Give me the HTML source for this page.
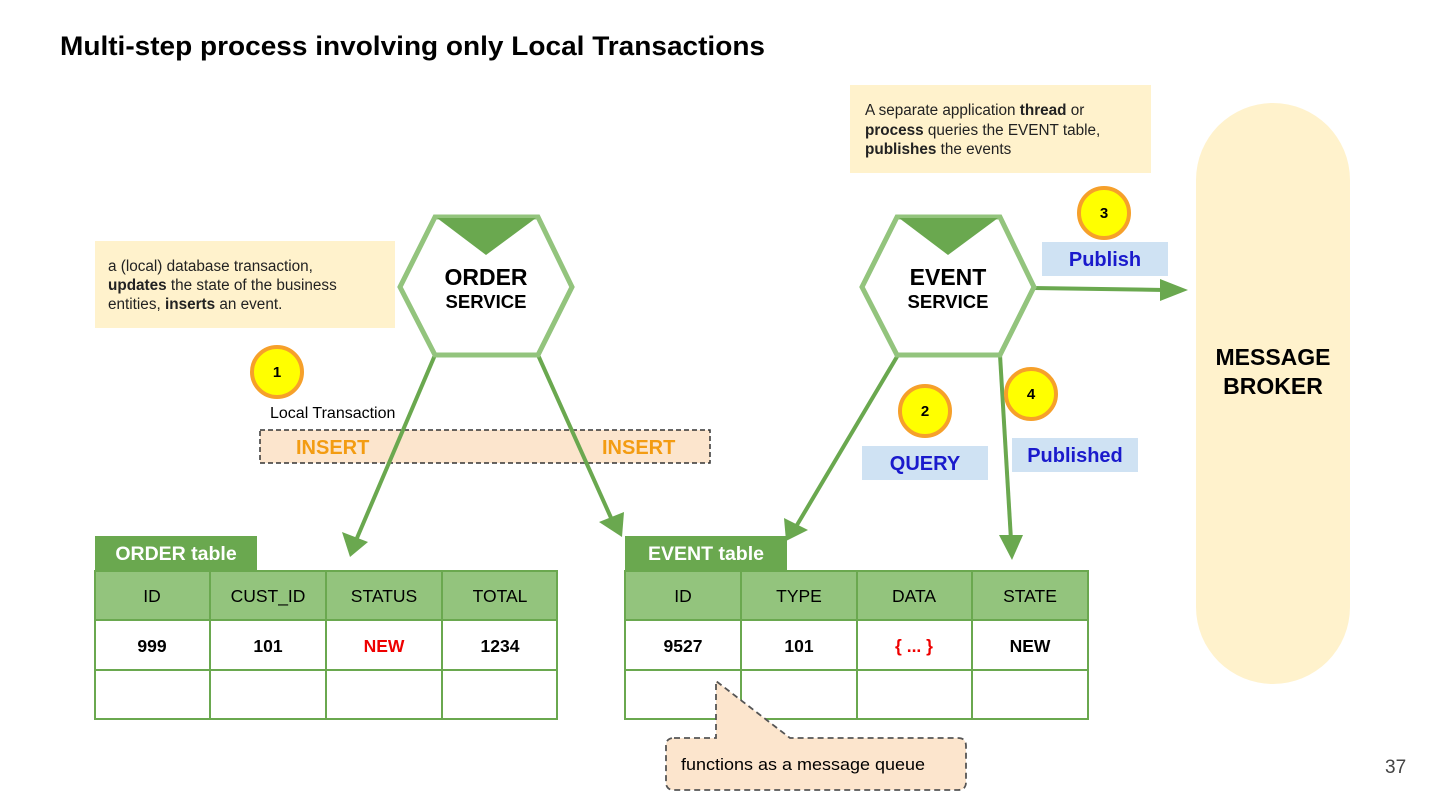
<!DOCTYPE html>
<html><head><meta charset="utf-8"><style>
body{margin:0;width:1440px;height:810px;background:#fff;overflow:hidden}
svg{position:absolute;left:0;top:0}
text{font-family:"Liberation Sans",Arial,sans-serif}
</style></head><body>
<svg width="1440" height="810" viewBox="0 0 1440 810">
<text x="60" y="55" font-size="27" font-weight="bold" textLength="705" lengthAdjust="spacingAndGlyphs">Multi-step process involving only Local Transactions</text>

<!-- notes -->
<rect x="95" y="241" width="300" height="87" fill="#fff2cc"/>
<text font-size="15.3" fill="#222"><tspan x="108" y="271">a (local) database transaction,</tspan><tspan x="108" y="290"><tspan font-weight="bold">updates</tspan> the state of the business</tspan><tspan x="108" y="309">entities, <tspan font-weight="bold">inserts</tspan> an event.</tspan></text>
<rect x="850" y="85" width="301" height="88" fill="#fff2cc"/>
<text font-size="15.3" fill="#222"><tspan x="865" y="115">A separate application <tspan font-weight="bold">thread</tspan> or</tspan><tspan x="865" y="135"><tspan font-weight="bold">process</tspan> queries the EVENT table,</tspan><tspan x="865" y="154"><tspan font-weight="bold">publishes</tspan> the events</tspan></text>

<!-- broker -->
<rect x="1196" y="103" width="154" height="581" rx="77" fill="#fff2cc"/>
<text x="1273" y="365" font-size="23" font-weight="bold" text-anchor="middle">MESSAGE</text>
<text x="1273" y="394" font-size="23" font-weight="bold" text-anchor="middle">BROKER</text>

<text x="270" y="418" font-size="16">Local Transaction</text>
<rect x="260" y="430" width="450" height="33" fill="#fce5cd" stroke="#333" stroke-width="1.5" stroke-dasharray="5,3"/>
<text x="296" y="454" font-size="20" font-weight="bold" fill="#f39c12">INSERT</text>
<text x="602" y="454" font-size="20" font-weight="bold" fill="#f39c12">INSERT</text>

<!-- arrows -->
<g stroke="#6aa84f" stroke-width="4" fill="none">
<line x1="435" y1="355" x2="357" y2="538"/>
<line x1="538" y1="355" x2="612" y2="520"/>
<line x1="898" y1="355" x2="797" y2="525"/>
<line x1="1000" y1="355" x2="1011" y2="540"/>
<line x1="1033" y1="288" x2="1165" y2="290"/>
</g>
<g fill="#6aa84f">
<polygon points="350,557 342,532 368,542"/>
<polygon points="622,537 599,522 624,512"/>
<polygon points="786,541 784,518 808,530"/>
<polygon points="1012,560 999,535 1023,535"/>
<polygon points="1188,290 1160,279 1160,301"/>
</g>

<!-- hexagons -->
<g>
<polygon points="435,217 538,217 572,287 538,355 435,355 400,287" fill="#fff" stroke="#93c47d" stroke-width="5"/>
<polygon points="437,218 536,218 486,255" fill="#6aa84f"/>
<text x="486" y="285" font-size="23" font-weight="bold" text-anchor="middle">ORDER</text>
<text x="486" y="308" font-size="18.5" font-weight="bold" text-anchor="middle">SERVICE</text>
<polygon points="897,217 1000,217 1034,287 1000,355 897,355 862,287" fill="#fff" stroke="#93c47d" stroke-width="5"/>
<polygon points="899,218 998,218 948,255" fill="#6aa84f"/>
<text x="948" y="285" font-size="23" font-weight="bold" text-anchor="middle">EVENT</text>
<text x="948" y="308" font-size="18.5" font-weight="bold" text-anchor="middle">SERVICE</text>
</g>

<!-- circles -->
<g fill="#ffff00" stroke="#f6a02a" stroke-width="4">
<circle cx="277" cy="372" r="25"/><circle cx="1104" cy="213" r="25"/>
<circle cx="925" cy="411" r="25"/><circle cx="1031" cy="394" r="25"/>
</g>
<g font-size="15" font-weight="bold" text-anchor="middle">
<text x="277" y="377">1</text><text x="1104" y="218">3</text><text x="925" y="416">2</text><text x="1031" y="399">4</text>
</g>

<!-- labels -->
<rect x="1042" y="242" width="126" height="34" fill="#cfe2f3"/>
<text x="1105" y="266" font-size="20" font-weight="bold" fill="#1a1acc" text-anchor="middle">Publish</text>
<rect x="862" y="446" width="126" height="34" fill="#cfe2f3"/>
<text x="925" y="470" font-size="20" font-weight="bold" fill="#1a1acc" text-anchor="middle">QUERY</text>
<rect x="1012" y="438" width="126" height="34" fill="#cfe2f3"/>
<text x="1075" y="462" font-size="20" font-weight="bold" fill="#1a1acc" text-anchor="middle">Published</text>

<!-- ORDER table -->
<rect x="95" y="536" width="162" height="35" fill="#6aa84f"/>
<text x="176" y="560" font-size="19.5" font-weight="bold" fill="#fff" text-anchor="middle">ORDER table</text>
<rect x="95" y="571" width="462" height="49" fill="#93c47d"/>
<g stroke="#6aa84f" stroke-width="2" fill="none">
<rect x="95" y="571" width="462" height="148"/>
<line x1="95" y1="620" x2="557" y2="620"/><line x1="95" y1="670" x2="557" y2="670"/>
<line x1="210" y1="571" x2="210" y2="719"/><line x1="326" y1="571" x2="326" y2="719"/><line x1="442" y1="571" x2="442" y2="719"/>
</g>
<g font-size="17.5" text-anchor="middle">
<text x="152" y="602">ID</text><text x="268" y="602">CUST_ID</text><text x="384" y="602">STATUS</text><text x="500" y="602">TOTAL</text>
</g>
<g font-size="17.5" font-weight="bold" text-anchor="middle">
<text x="152" y="652">999</text><text x="268" y="652">101</text><text x="384" y="652" fill="#e00">NEW</text><text x="500" y="652">1234</text>
</g>

<!-- EVENT table -->
<rect x="625" y="536" width="162" height="35" fill="#6aa84f"/>
<text x="706" y="560" font-size="19.5" font-weight="bold" fill="#fff" text-anchor="middle">EVENT table</text>
<rect x="625" y="571" width="463" height="49" fill="#93c47d"/>
<g stroke="#6aa84f" stroke-width="2" fill="none">
<rect x="625" y="571" width="463" height="148"/>
<line x1="625" y1="620" x2="1088" y2="620"/><line x1="625" y1="670" x2="1088" y2="670"/>
<line x1="741" y1="571" x2="741" y2="719"/><line x1="857" y1="571" x2="857" y2="719"/><line x1="972" y1="571" x2="972" y2="719"/>
</g>
<g font-size="17.5" text-anchor="middle">
<text x="683" y="602">ID</text><text x="799" y="602">TYPE</text><text x="914" y="602">DATA</text><text x="1030" y="602">STATE</text>
</g>
<g font-size="17.5" font-weight="bold" text-anchor="middle">
<text x="683" y="652">9527</text><text x="799" y="652">101</text><text x="914" y="652" fill="#e00">{ ... }</text><text x="1030" y="652">NEW</text>
</g>

<!-- callout -->
<path d="M674,738 L716,738 L716,681 L790,738 L958,738 Q966,738 966,746 L966,782 Q966,790 958,790 L674,790 Q666,790 666,782 L666,746 Q666,738 674,738 Z" fill="#fce5cd" stroke="#555" stroke-width="1.8" stroke-dasharray="6,4"/>
<text x="681" y="770" font-size="17" textLength="244" lengthAdjust="spacingAndGlyphs">functions as a message queue</text>

<text x="1385" y="773" font-size="19" fill="#444">37</text>
</svg>
</body></html>
